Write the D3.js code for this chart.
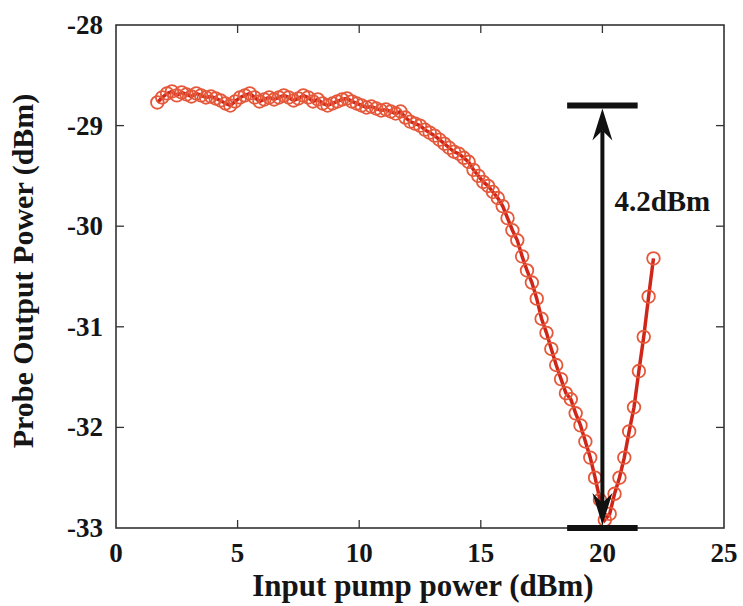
<!DOCTYPE html>
<html>
<head>
<meta charset="utf-8">
<script src="https://cdn.jsdelivr.net/npm/d3@7"></script>
<style>
  body { margin: 0; background: #fff; }
  svg { display: block; }
  text { font-family: "Liberation Serif", "Times New Roman", serif; font-weight: bold; fill: #151515; }
</style>
</head>
<body>
<div id="chart"></div>
<script>
// Input pump power (dBm)
const pumpPower = [
  1.7, 1.9, 2.1, 2.3, 2.5, 2.7, 2.9, 3.1, 3.3, 3.5, 3.7, 3.9, 4.1, 4.3, 4.5, 4.7, 4.9,
  5.1, 5.3, 5.5, 5.7, 5.9, 6.1, 6.3, 6.5, 6.7, 6.9, 7.1, 7.3, 7.5, 7.7, 7.9,
  8.1, 8.3, 8.5, 8.7, 8.9, 9.1, 9.3, 9.5, 9.7, 9.9, 10.1, 10.3, 10.5, 10.7, 10.9,
  11.1, 11.3, 11.5, 11.7, 11.9, 12.1, 12.3, 12.5, 12.7, 12.9, 13.1, 13.3, 13.5, 13.7, 13.9,
  14.1, 14.3, 14.5, 14.7, 14.9, 15.1, 15.3, 15.5, 15.7, 15.9, 16.1, 16.3, 16.5, 16.7, 16.9,
  17.1, 17.3, 17.5, 17.7, 17.9, 18.1, 18.3, 18.5, 18.7, 18.9, 19.1, 19.3, 19.5, 19.7, 19.9,
  20.1, 20.3, 20.5, 20.7, 20.9, 21.1, 21.3, 21.5, 21.7, 21.9, 22.1
];
// Probe output power (dBm)
const probePower = [
  -28.77, -28.72, -28.68, -28.66, -28.70, -28.67, -28.69, -28.71, -28.68, -28.70, -28.72, -28.71, -28.73, -28.75, -28.78, -28.80, -28.76,
  -28.72, -28.70, -28.68, -28.72, -28.76, -28.74, -28.72, -28.74, -28.72, -28.70, -28.72, -28.75, -28.73, -28.70, -28.72,
  -28.76, -28.74, -28.78, -28.80, -28.78, -28.76, -28.74, -28.73, -28.76, -28.78, -28.80, -28.82, -28.81, -28.83, -28.85,
  -28.84, -28.86, -28.88, -28.86, -28.92, -28.96, -28.98, -29.00, -29.04, -29.07, -29.10, -29.14, -29.18, -29.22, -29.26,
  -29.28, -29.32, -29.36, -29.44, -29.50, -29.56, -29.60, -29.66, -29.72, -29.80, -29.92, -30.04, -30.14, -30.30, -30.44,
  -30.56, -30.72, -30.92, -31.06, -31.22, -31.38, -31.52, -31.66, -31.72, -31.86, -31.98, -32.14, -32.30, -32.50, -32.72,
  -32.92, -32.86, -32.66, -32.50, -32.30, -32.04, -31.80, -31.44, -31.10, -30.70, -30.32
];
const xTicks = [0, 5, 10, 15, 20, 25];
const yTicks = [-28, -29, -30, -31, -32, -33];

// extinction marker: arrow between max and min of probe power
const markerX = 20;
const markerTop = -28.8;
const markerBottom = -33.0;
const markerLabel = "4.2dBm";

const width = 743, height = 606;
const margin = { top: 25, right: 19, bottom: 78, left: 116 };
const innerW = width - margin.left - margin.right;
const innerH = height - margin.top - margin.bottom;

const svg = d3.select("#chart").append("svg")
  .attr("width", width)
  .attr("height", height);

const g = svg.append("g")
  .attr("transform", `translate(${margin.left},${margin.top})`);

const x = d3.scaleLinear().domain([0, 25]).range([0, innerW]);
const y = d3.scaleLinear().domain([-33, -28]).range([innerH, 0]);

// frame
g.append("rect")
  .attr("width", innerW)
  .attr("height", innerH)
  .attr("fill", "none")
  .attr("stroke", "#333")
  .attr("stroke-width", 1.6);

// inward ticks on all four sides
const tickLen = 8;
const innerX = xTicks.filter(d => d > 0 && d < 25);
const innerY = yTicks.filter(d => d > -33 && d < -28);

g.append("g").selectAll("line").data(innerX).join("line")
  .attr("x1", d => x(d)).attr("x2", d => x(d))
  .attr("y1", innerH).attr("y2", innerH - tickLen)
  .attr("stroke", "#333").attr("stroke-width", 1.3);
g.append("g").selectAll("line").data(innerX).join("line")
  .attr("x1", d => x(d)).attr("x2", d => x(d))
  .attr("y1", 0).attr("y2", tickLen)
  .attr("stroke", "#333").attr("stroke-width", 1.3);
g.append("g").selectAll("line").data(innerY).join("line")
  .attr("x1", 0).attr("x2", tickLen)
  .attr("y1", d => y(d)).attr("y2", d => y(d))
  .attr("stroke", "#333").attr("stroke-width", 1.3);
g.append("g").selectAll("line").data(innerY).join("line")
  .attr("x1", innerW).attr("x2", innerW - tickLen)
  .attr("y1", d => y(d)).attr("y2", d => y(d))
  .attr("stroke", "#333").attr("stroke-width", 1.3);

// tick labels
g.append("g").selectAll("text").data(xTicks).join("text")
  .attr("x", d => x(d))
  .attr("y", innerH + 34)
  .attr("text-anchor", "middle")
  .style("font-size", "27px")
  .text(d => d);

g.append("g").selectAll("text").data(yTicks).join("text")
  .attr("x", -13)
  .attr("y", d => y(d))
  .attr("dy", "0.33em")
  .attr("text-anchor", "end")
  .style("font-size", "27px")
  .text(d => d);

// axis titles
svg.append("text")
  .attr("x", 423)
  .attr("y", 596)
  .attr("text-anchor", "middle")
  .style("font-size", "31px")
  .text("Input pump power (dBm)");

svg.append("text")
  .attr("transform", "translate(33,271) rotate(-90)")
  .attr("text-anchor", "middle")
  .style("font-size", "30px")
  .text("Probe Output Power (dBm)");

// data
const pts = pumpPower.map((d, i) => ({ x: d, y: probePower[i] }));

const line = d3.line().x(d => x(d.x)).y(d => y(d.y));

g.append("path")
  .datum(pts)
  .attr("d", line)
  .attr("fill", "none")
  .attr("stroke", "#d0261a")
  .attr("stroke-width", 3.5);

g.append("g").selectAll("circle").data(pts).join("circle")
  .attr("cx", d => x(d.x))
  .attr("cy", d => y(d.y))
  .attr("r", 6.3)
  .attr("fill", "none")
  .attr("stroke", "#e5583a")
  .attr("stroke-width", 1.8);

// marker bars and double arrow
const barHalf = 1.45;
[markerTop, markerBottom].forEach(v => {
  g.append("line")
    .attr("x1", x(markerX - barHalf)).attr("x2", x(markerX + barHalf))
    .attr("y1", y(v)).attr("y2", y(v))
    .attr("stroke", "#111").attr("stroke-width", 6);
});

const ax = x(markerX);
const yTopTip = y(markerTop) + 3;
const yBotTip = y(markerBottom) - 3;
const headL = 32, headW = 10, notch = 22;

g.append("line")
  .attr("x1", ax).attr("x2", ax)
  .attr("y1", yTopTip + notch).attr("y2", yBotTip - notch)
  .attr("stroke", "#111").attr("stroke-width", 4);

g.append("path")
  .attr("d", `M${ax},${yTopTip} L${ax + headW},${yTopTip + headL} L${ax},${yTopTip + notch} L${ax - headW},${yTopTip + headL} Z`)
  .attr("fill", "#111");
g.append("path")
  .attr("d", `M${ax},${yBotTip} L${ax + headW},${yBotTip - headL} L${ax},${yBotTip - notch} L${ax - headW},${yBotTip - headL} Z`)
  .attr("fill", "#111");

g.append("text")
  .attr("x", ax + 12)
  .attr("y", y(-29.75))
  .attr("dy", "0.35em")
  .style("font-size", "29px")
  .text(markerLabel);
</script>
</body>
</html>
